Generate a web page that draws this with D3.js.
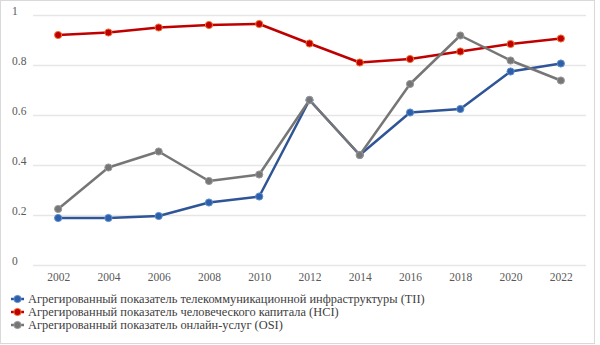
<!DOCTYPE html>
<html><head><meta charset="utf-8">
<script src="https://cdn.jsdelivr.net/npm/d3@7"></script>
<style>body{margin:0;background:#fff}svg{display:block}</style>
</head><body>
<svg id="c" width="600" height="345"></svg>
<script>
const years = ["2002","2004","2006","2008","2010","2012","2014","2016","2018","2020","2022"];
const tii = [0.188,0.188,0.196,0.25,0.274,0.66,0.44,0.61,0.624,0.774,0.806];
const hci = [0.92,0.93,0.95,0.96,0.964,0.886,0.81,0.824,0.854,0.884,0.906];
const osi = [0.224,0.39,0.454,0.336,0.362,0.66,0.44,0.724,0.918,0.818,0.738];
const yTicks = [0,0.2,0.4,0.6,0.8,1];
const seriesNames = ["Агрегированный показатель телекоммуникационной инфраструктуры (TII)","Агрегированный показатель человеческого капитала (HCI)","Агрегированный показатель онлайн-услуг (OSI)"];

const series = [
  {name: seriesNames[0], values: tii, color: "#2F5597", mfill: "#2F5FA8", mstroke: "#5B8FD0"},
  {name: seriesNames[1], values: hci, color: "#C00000", mfill: "#C00000", mstroke: "#F07030"},
  {name: seriesNames[2], values: osi, color: "#767676", mfill: "#767676", mstroke: "#9A9A9A"}
];
const FONT = '"Liberation Serif"';

const svg = d3.select("#c");
svg.append("rect").attr("x",0.5).attr("y",0.5).attr("width",594).attr("height",343)
  .attr("fill","#fff").attr("stroke","#D9D9D9");

const x = d3.scalePoint().domain(years).range([33,586]).padding(0.5);
const y = d3.scaleLinear().domain([0,1]).range([265,15]);

const gy = svg.append("g").attr("transform","translate(33,0)")
  .call(d3.axisLeft(y).tickValues(yTicks).tickSize(-553).tickFormat(d=>d3.format("")(d)));
gy.attr("font-family", null).attr("font-size", null);
gy.select(".domain").remove();
gy.selectAll(".tick line").attr("stroke","#E6E6E6").attr("stroke-width",1.3);
gy.selectAll(".tick text").attr("x",-21).attr("text-anchor","start").attr("dy","-0.05em").attr("fill","#595959")
  .style("font-family",FONT).style("font-size","11.5px");

const gx = svg.append("g").attr("transform","translate(0,265)")
  .call(d3.axisBottom(x).tickSize(0).tickPadding(8));
gx.attr("font-family", null).attr("font-size", null);
gx.select(".domain").remove();
gx.selectAll(".tick text").attr("fill","#595959").style("font-family",FONT).style("font-size","11.5px");

const line = d3.line().x((d,i)=>x(years[i])).y(d=>y(d));
series.forEach(s=>{
  svg.append("path").datum(s.values).attr("d",line).attr("fill","none")
    .attr("stroke",s.color).attr("stroke-width",2.5).attr("stroke-linejoin","round");
});
series.forEach(s=>{
  svg.selectAll(null).data(s.values).enter().append("circle")
    .attr("cx",(d,i)=>x(years[i])).attr("cy",d=>y(d)).attr("r",3.6)
    .attr("fill",s.mfill).attr("stroke",s.mstroke).attr("stroke-width",1);
});

const lg = svg.append("g");
series.forEach((s,i)=>{
  const yy = 299 + i*13;
  lg.append("line").attr("x1",11).attr("x2",24).attr("y1",yy).attr("y2",yy)
    .attr("stroke",s.color).attr("stroke-width",2.5);
  lg.append("circle").attr("cx",17.5).attr("cy",yy).attr("r",3.6).attr("fill",s.mfill)
    .attr("stroke",s.mstroke).attr("stroke-width",1);
  lg.append("text").attr("x",28).attr("y",yy).attr("dy","0.35em").text(s.name)
    .attr("fill","#404040").style("font-family",FONT).style("font-size","12.4px");
});
</script>
</body></html>
